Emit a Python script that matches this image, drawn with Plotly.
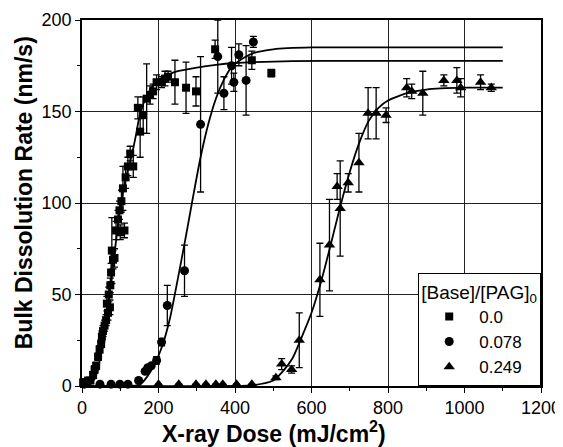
import plotly.graph_objects as go

# ---------------- data ----------------
series_names = ["0.0", "0.078", "0.249"]

sq_dose = [3, 9, 16, 22, 29, 33, 37, 42, 46, 50, 52, 55, 59, 63, 65, 68, 70, 73, 74, 76, 78, 81, 85, 89,
           94, 98, 100, 103, 107, 111, 114, 120, 126, 134, 146, 152, 160, 169, 178, 186, 195, 208, 217,
           225, 243, 272, 298, 348, 444, 495]
sq_rate = [2, 2, 3, 3, 6, 9, 11, 16, 20, 23, 27, 30, 33, 36, 45, 40, 50, 43, 55, 62, 74, 69, 70, 85,
           91, 96, 84, 101, 108, 85, 114, 120, 127, 120, 152, 139, 148, 157, 159, 161, 166, 166, 168,
           169, 166, 163, 161, 184, 178, 171]
sq_err = [1, 1, 1, 1, 2, 2, 2, 2, 2, 2, 3, 3, 3, 3, 4, 4, 4, 4, 4, 5, 18, 5, 5, 5,
          5, 5, 4, 6, 12, 4, 6, 5, 4, 6, 6, 14, 10, 19, 5, 4, 4, 3, 4,
          3, 12, 14, 8, 5, 5, 2]

ci_dose = [6, 47, 76, 99, 120, 148, 165, 172, 181, 195, 208, 223, 268, 310, 355, 371, 391, 397, 410, 429, 448]
ci_rate = [1, 1, 1, 1, 1, 3, 8, 10, 11, 14, 24, 44, 63, 143, 180, 160, 175, 166, 181, 167, 188]
ci_err = [0, 0, 0, 0, 0, 1, 1, 1, 1, 2, 2, 11, 14, 37, 20, 9, 10, 5, 6, 19, 3]

tr_dose = [200, 253, 298, 324, 350, 368, 404, 444, 507, 522, 548, 568, 622, 647, 667, 675, 696, 724,
           748, 769, 795, 849, 862, 891, 946, 980, 990, 1042, 1070]
tr_rate = [1, 1, 1, 1, 1, 1, 1, 1, 4.5, 12, 9, 25, 58, 77, 109, 97, 111, 122,
           149, 149, 148, 163, 161, 160, 167, 167, 163, 166, 163]
tr_err = [0, 0, 0, 0, 0, 0, 0, 0, 1, 3, 2, 15, 20, 25, 7, 26, 5, 16,
          14, 14, 4, 5, 4, 12, 3, 7, 5, 4, 2]

# fitted curves
fit_sq_dose = [0, 20, 30, 40, 50, 60, 70, 80, 90, 100, 110, 120, 130, 140, 150, 160, 170, 185, 200,
               225, 250, 300, 350, 400, 450, 550, 700, 1100]
fit_sq_rate = [0, 1, 3, 8, 18, 32, 47, 64, 81, 97, 109, 118, 126, 136, 147, 154, 159, 164, 167,
               170, 172, 174, 175.5, 176.5, 177, 177.5, 177.7, 177.7]
fit_ci_dose = [0, 100, 150, 170, 190, 210, 230, 250, 270, 290, 310, 330, 350, 370, 390, 420, 450,
               500, 600, 800, 1100]
fit_ci_rate = [0, 0, 0.5, 5, 12, 22, 37, 58, 80, 103, 125, 143, 157, 167, 174, 179, 182,
               184, 185, 185, 185]
fit_tr_dose = [0, 400, 450, 500, 525, 550, 575, 600, 625, 650, 675, 700, 725, 750, 775, 800, 850,
               900, 1000, 1100]
fit_tr_rate = [0, 0, 0.5, 3, 8, 15, 27, 40, 57, 77, 98, 117, 133, 145, 152, 156, 160,
               162, 163, 163]

x_ticks = [0, 200, 400, 600, 800, 1000, 1200]
y_ticks = [0, 50, 100, 150, 200]
x_title = "<b>X-ray Dose (mJ/cm<sup>2</sup>)</b>"
y_title = "<b>Bulk Dissolution Rate (nm/s)</b>"
legend_title = "[Base]/[PAG]<sub>0</sub>"

# ---------------- figure ----------------
FONT = "Liberation Sans, Arial, sans-serif"
fig = go.Figure()

for fx, fy in [(fit_sq_dose, fit_sq_rate), (fit_ci_dose, fit_ci_rate), (fit_tr_dose, fit_tr_rate)]:
    fig.add_trace(go.Scatter(x=fx, y=fy, mode="lines",
                             line=dict(color="black", width=1.8, shape="spline", smoothing=0.6),
                             showlegend=False, hoverinfo="skip", cliponaxis=False))

for name, xs, ys, es, sym, size in [
    (series_names[0], sq_dose, sq_rate, sq_err, "square", 8),
    (series_names[1], ci_dose, ci_rate, ci_err, "circle", 9),
    (series_names[2], tr_dose, tr_rate, tr_err, "triangle-up", 10),
]:
    fig.add_trace(go.Scatter(
        x=xs, y=ys, name=name, mode="markers",
        marker=dict(symbol=sym, size=size, color="black"),
        error_y=dict(type="data", array=es, visible=True, color="black", thickness=1.3, width=3.5),
        cliponaxis=False,
    ))

axis_common = dict(
    showline=True, linecolor="black", linewidth=1.5, mirror=True,
    showgrid=True, gridcolor="#222222", gridwidth=1,
    ticks="outside", ticklen=5, tickwidth=1.2, tickcolor="black",
    tickfont=dict(family=FONT, size=18, color="black"),
    zeroline=False, automargin=False,
)

fig.update_xaxes(range=[0, 1200], tickvals=x_ticks, ticktext=[str(v) for v in x_ticks],
                 minor=dict(dtick=100, ticks="outside", ticklen=3, tickcolor="black", showgrid=False),
                 **axis_common)
fig.update_yaxes(range=[0, 200], tickvals=y_ticks, ticktext=[str(v) for v in y_ticks],
                 minor=dict(dtick=25, ticks="outside", ticklen=3, tickcolor="black", showgrid=False),
                 **axis_common)

fig.add_annotation(text=x_title, xref="paper", yref="paper", x=0.418, y=-0.127,
                   xanchor="center", yanchor="middle", showarrow=False,
                   font=dict(family=FONT, size=23, color="black"))
fig.add_annotation(text=y_title, xref="paper", yref="paper", x=-0.126, y=0.527,
                   xanchor="center", yanchor="middle", showarrow=False, textangle=-90,
                   font=dict(family=FONT, size=23, color="black"))

# the page adds an 8px body margin, so the figure is sized 8px smaller
fig.update_layout(
    template="none",
    width=555, height=439,
    margin=dict(l=74, r=22, t=12, b=61, autoexpand=False),
    paper_bgcolor="white", plot_bgcolor="white",
    font=dict(family=FONT, color="black"),
    legend=dict(
        title=dict(text=legend_title, font=dict(family=FONT, size=19, color="black")),
        font=dict(family=FONT, size=17, color="black"),
        x=1, y=0, xanchor="right", yanchor="bottom",
        bgcolor="white", bordercolor="black", borderwidth=1.2,
        itemwidth=50, tracegroupgap=0,
    ),
)

fig.write_html("out.html")
